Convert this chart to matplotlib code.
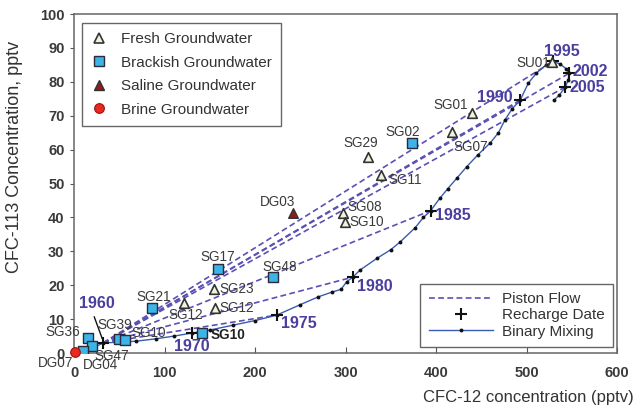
"""CFC-12 vs CFC-113 groundwater dating plot with piston-flow and binary-mixing lines."""
import matplotlib

matplotlib.use("Agg")
import matplotlib.pyplot as plt
from matplotlib.lines import Line2D

plt.rcParams["font.family"] = ["Liberation Sans", "DejaVu Sans"]

# Samples: (CFC-12, CFC-113) per water type
fresh_names = ["SU01", "SG01", "SG07", "SG29", "SG11", "SG08", "SG10t", "SG23", "SG12a", "SG12b"]
fresh_cfc12 = [528, 440, 418, 325, 339, 297, 299, 154, 156, 121]
fresh_cfc113 = [85.8, 70.8, 65.2, 57.8, 52.5, 41.3, 38.6, 18.9, 13.3, 14.8]

brackish_names = ["SG02", "SG17", "SG48", "SG21", "SG10", "SG36", "SG39", "SG10s", "SG47", "DG04"]
brackish_cfc12 = [373, 159, 220, 86, 141, 15, 49, 56, 20, 10]
brackish_cfc113 = [62.0, 24.7, 22.4, 13.3, 5.9, 4.4, 4.3, 4.0, 2.0, 0.5]

saline_cfc12 = [242]
saline_cfc113 = [41.3]

brine_cfc12 = [1]
brine_cfc113 = [0.4]

# Atmospheric input curve (binary mixing)
mix_cfc12 = [0, 10, 20, 32, 50, 68, 90, 110, 130, 150, 175, 200, 224, 250, 270, 285,
             295, 301, 308, 316, 335, 350, 360, 377, 386, 394, 404, 413, 423, 434,
             446, 460, 469, 476, 484, 493, 502, 511, 522, 529, 537, 544, 547, 546,
             543, 536, 530]
mix_cfc113 = [0, 0.6, 1.4, 3.0, 3.2, 3.5, 4.2, 5.0, 5.9, 6.8, 8.2, 9.6, 11.2, 14.3,
              16.6, 18.0, 18.8, 21.0, 22.4, 24.5, 28.0, 30.5, 32.7, 37.0, 40.0, 42.0,
              45.6, 48.5, 51.6, 55.0, 58.4, 62.0, 65.0, 68.7, 72.0, 74.6, 79.6, 82.6,
              85.0, 86.0, 85.3, 83.8, 82.5, 80.5, 78.5, 76.0, 74.5]

# Recharge dates on the curve
years = ["1960", "1970", "1975", "1980", "1985", "1990", "1995", "2002", "2005"]
year_cfc12 = [32, 130, 224, 308, 394, 493, 529, 547, 543]
year_cfc113 = [3.0, 5.9, 11.2, 22.4, 42.0, 74.6, 86.0, 82.5, 78.5]

# Piston-flow lines run from the 1960 point to these dates
piston_years = ["1975", "1980", "1985", "1990", "1995", "2002", "2005"]

PURPLE = "#4a3f9e"
DASH = "#5a50b4"
TEXT = "#3a3a3a"

fig = plt.figure(figsize=(6.4, 4.12), dpi=100)
ax = fig.add_axes([0.116, 0.143, 0.848, 0.823])

# piston flow
x0, y0 = year_cfc12[0], year_cfc113[0]
for yr in piston_years:
    i = years.index(yr)
    ax.plot([x0, year_cfc12[i]], [y0, year_cfc113[i]], color=DASH, lw=1.2,
            dashes=(3.5, 2), zorder=2)

# binary mixing
ax.plot(mix_cfc12, mix_cfc113, color="#3a5cb0", lw=1.0, marker="o", ms=1.8,
        mfc="#111111", mec="#111111", zorder=3)

# recharge dates
ax.plot(year_cfc12, year_cfc113, ls="none", marker="+", ms=8, mew=1.5,
        color="#111111", zorder=4)

# samples
ax.scatter(fresh_cfc12, fresh_cfc113, marker="^", s=48, facecolor="#eef4dc",
           edgecolor="#333333", linewidth=1.2, zorder=5)
ax.scatter(brackish_cfc12, brackish_cfc113, marker="s", s=48, facecolor="#3cb4e8",
           edgecolor="#2a2a3a", linewidth=1.0, zorder=5)
ax.scatter(saline_cfc12, saline_cfc113, marker="^", s=48, facecolor="#8e1c1c",
           edgecolor="#333333", linewidth=1.0, zorder=5)
ax.scatter(brine_cfc12, brine_cfc113, marker="o", s=48, facecolor="#e52a22",
           edgecolor="#a01010", linewidth=0.8, zorder=6, clip_on=False)

# sample labels: (text, x, y, ha, weight)
sample_labels = [
    ("SU01", 526, 85.5, "right", "normal"),
    ("SG01", 416.6, 73.2, "center", "normal"),
    ("SG02", 363, 65.2, "center", "normal"),
    ("SG29", 316.6, 62.0, "center", "normal"),
    ("SG07", 419, 60.8, "left", "normal"),
    ("SG11", 347, 51.0, "left", "normal"),
    ("SG08", 302, 43.0, "left", "normal"),
    ("SG10", 304, 38.6, "left", "normal"),
    ("DG03", 225, 44.5, "center", "normal"),
    ("SG17", 158.6, 28.3, "center", "normal"),
    ("SG48", 227.6, 25.4, "center", "normal"),
    ("SG23", 160, 18.9, "left", "normal"),
    ("SG12", 160, 13.3, "left", "normal"),
    ("SG12", 122.7, 11.2, "center", "normal"),
    ("SG21", 87.8, 16.5, "center", "normal"),
    ("SG39", 45.3, 8.3, "center", "normal"),
    ("SG10", 63, 5.9, "left", "normal"),
    ("SG36", -12.7, 6.2, "center", "normal"),
    ("SG10", 151, 5.3, "left", "bold"),
    ("SG47", 41.4, -0.9, "center", "normal"),
    ("DG04", 28.7, -3.5, "center", "normal"),
    ("DG07", -21, -3.0, "center", "normal"),
]
for txt, x, y, ha, w in sample_labels:
    ax.text(x, y, txt, fontsize=9.8, color=TEXT if w == "normal" else "#222222",
            ha=ha, va="center", fontweight=w, zorder=7, clip_on=False)

# date labels: (text, x, y, ha)
date_labels = [
    ("1995", 538.7, 88.8, "center"),
    ("2002", 551, 82.9, "left"),
    ("2005", 547, 78.2, "left"),
    ("1990", 465, 75.5, "center"),
    ("1985", 399, 40.7, "left"),
    ("1980", 332.6, 19.5, "center"),
    ("1975", 248, 8.8, "center"),
    ("1970", 130, 1.8, "center"),
    ("1960", 24.9, 14.7, "center"),
]
for txt, x, y, ha in date_labels:
    ax.text(x, y, txt, fontsize=11.5, color=PURPLE, ha=ha, va="center",
            fontweight="bold", zorder=7)

ax.annotate("", xy=(year_cfc12[0], year_cfc113[0] + 0.5), xytext=(21, 11.5),
            arrowprops=dict(arrowstyle="-", color="#111111", lw=1.0), zorder=7)

ax.set_xlim(0, 600)
ax.set_ylim(0, 100)
ax.set_xticks(range(0, 601, 100))
ax.set_yticks(range(0, 101, 10))
ax.tick_params(axis="x", direction="in", length=4, colors="#555555",
               labelcolor="#3a3a3a", labelsize=10.5, pad=9)
ax.tick_params(axis="y", direction="out", length=3, colors="#555555",
               labelcolor="#3a3a3a", labelsize=10.5, pad=4)
for lbl in ax.get_xticklabels() + ax.get_yticklabels():
    lbl.set_fontweight("bold")
for sp in ax.spines.values():
    sp.set_color("#666666")
    sp.set_linewidth(1.1)

fig.text(0.825, 0.034, "CFC-12 concentration (pptv)", fontsize=12, color="#333333",
         ha="center", va="center")
fig.text(0.022, 0.62, "CFC-113 Concentration, pptv", fontsize=13, color="#333333",
         ha="center", va="center", rotation=90)

# legends
sample_handles = [
    Line2D([], [], ls="none", marker="^", ms=7, mfc="#eef4dc", mec="#333333", mew=1.2),
    Line2D([], [], ls="none", marker="s", ms=7, mfc="#3cb4e8", mec="#2a2a3a", mew=1.0),
    Line2D([], [], ls="none", marker="^", ms=7, mfc="#8e1c1c", mec="#333333", mew=1.0),
    Line2D([], [], ls="none", marker="o", ms=7, mfc="#e52a22", mec="#a01010", mew=0.8),
]
leg1 = ax.legend(sample_handles,
                 ["Fresh Groundwater", "Brackish Groundwater", "Saline Groundwater",
                  "Brine Groundwater"],
                 loc="upper left", bbox_to_anchor=(0.015, 0.973), borderaxespad=0,
                 fontsize=11, labelspacing=0.62, handlelength=1.0, handletextpad=0.9,
                 fancybox=False, edgecolor="#666666", framealpha=1, borderpad=0.6)
for t in leg1.get_texts():
    t.set_color("#333333")
ax.add_artist(leg1)

line_handles = [
    Line2D([], [], color=DASH, lw=1.2, dashes=(3.5, 2)),
    Line2D([], [], ls="none", marker="+", ms=8, mew=1.5, color="#111111"),
    Line2D([], [], color="#3a5cb0", lw=1.0, marker="o", ms=1.8, mfc="#111111",
           mec="#111111", markevery=[1, 3, 5]),
]
leg2 = ax.legend(line_handles, ["Piston Flow", "Recharge Date", "Binary Mixing"],
                 loc="lower right", bbox_to_anchor=(0.993, 0.018), borderaxespad=0,
                 fontsize=11, labelspacing=0.15, handlelength=4.2, handletextpad=0.6,
                 fancybox=False, edgecolor="#666666", framealpha=1, borderpad=0.55)
for t in leg2.get_texts():
    t.set_color("#333333")

fig.savefig("out.png", dpi=100)
